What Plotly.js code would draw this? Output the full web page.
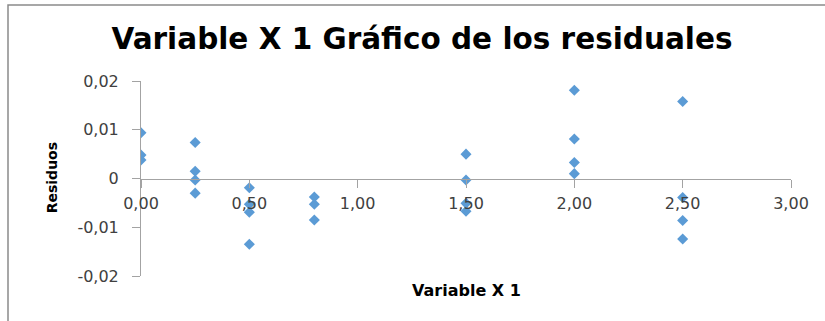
<!DOCTYPE html>
<html>
<head>
<meta charset="utf-8">
<script src="https://cdn.plot.ly/plotly-3.0.1.min.js"></script>
<style>
  html, body { margin: 0; padding: 0; background: #ffffff; }
  #chart { width: 825px; height: 321px; }
</style>
</head>
<body>
<div id="chart"></div>
<script>
// Residuals of the regression against Variable X 1
const variableX1 = [
  0, 0, 0,
  0.25, 0.25, 0.25, 0.25,
  0.5, 0.5, 0.5, 0.5,
  0.8, 0.8, 0.8,
  1.5, 1.5, 1.5, 1.5,
  2.0, 2.0, 2.0, 2.0,
  2.5, 2.5, 2.5, 2.5
];
const residuos = [
  0.0094, 0.0048, 0.0038,
  0.0074, 0.0015, -0.0003, -0.0030,
  -0.0019, -0.0053, -0.0069, -0.0135,
  -0.0038, -0.0053, -0.0085,
  0.0050, -0.0003, -0.0051, -0.0067,
  0.0181, 0.0081, 0.0033, 0.0010,
  0.0158, -0.0039, -0.0086, -0.0124
];

const xTickVals = [0, 0.5, 1, 1.5, 2, 2.5, 3];
const xTickText = ['0,00', '0,50', '1,00', '1,50', '2,00', '2,50', '3,00'];
const yTickVals = [-0.02, -0.01, 0, 0.01, 0.02];
const yTickText = ['-0,02', '-0,01', '0', '0,01', '0,02'];

const W = 825, H = 321;
const M = { l: 141, r: 34, t: 81, b: 45 };
const plotW = W - M.l - M.r, plotH = H - M.t - M.b;
// pixel -> paper helpers for the outer frame
const px = v => (v - M.l) / plotW;
const py = v => (H - M.b - v) / plotH;

const axisGrey = '#a3a3a3';
const tickFont = { family: 'DejaVu Sans', size: 16, color: '#404040' };

const trace = {
  type: 'scatter',
  mode: 'markers',
  x: variableX1,
  y: residuos,
  marker: { symbol: 'diamond', size: 8.5, color: '#5B9BD5', line: { width: 0 } },
  hoverinfo: 'x+y'
};

const layout = {
  width: W,
  height: H,
  margin: M,
  paper_bgcolor: '#ffffff',
  plot_bgcolor: '#ffffff',
  showlegend: false,
  title: {
    text: 'Variable X 1 Gráfico de los residuales',
    font: { family: 'DejaVu Sans', size: 29.5, color: '#000000', weight: 'bold' },
    xref: 'container', yref: 'container',
    x: 422 / W, xanchor: 'center',
    y: 1 - 39 / H, yanchor: 'middle'
  },
  xaxis: {
    range: [0, 3],
    tickvals: xTickVals,
    ticktext: xTickText,
    tickfont: tickFont,
    ticks: 'outside',
    ticklen: 8,
    tickcolor: axisGrey,
    showline: true,
    linecolor: axisGrey,
    linewidth: 1,
    showgrid: false,
    zeroline: false,
    anchor: 'free',
    position: 0.5,
    ticklabelstandoff: 2,
    fixedrange: true
  },
  yaxis: {
    range: [-0.02, 0.02],
    tickvals: yTickVals,
    ticktext: yTickText,
    tickfont: tickFont,
    ticks: 'outside',
    ticklen: 8,
    tickcolor: axisGrey,
    showline: true,
    linecolor: axisGrey,
    linewidth: 1,
    showgrid: false,
    zeroline: false,
    ticklabelstandoff: 10,
    fixedrange: true
  },
  annotations: [
    {
      text: 'Variable X 1',
      xref: 'paper', yref: 'paper',
      x: px(466), y: py(290.5),
      xanchor: 'center', yanchor: 'middle',
      showarrow: false,
      font: { family: 'DejaVu Sans', size: 16, color: '#000000', weight: 'bold' }
    },
    {
      text: 'Residuos',
      xref: 'paper', yref: 'paper',
      x: px(52), y: py(178.3),
      xanchor: 'center', yanchor: 'middle',
      textangle: -90,
      showarrow: false,
      font: { family: 'DejaVu Sans', size: 14, color: '#000000', weight: 'bold' }
    }
  ],
  shapes: [
    {
      type: 'rect',
      xref: 'paper', yref: 'paper',
      x0: px(8), x1: px(840),
      y0: py(340), y1: py(5),
      line: { color: '#8a8a8a', width: 1.5 },
      fillcolor: 'rgba(0,0,0,0)',
      layer: 'below'
    }
  ]
};

Plotly.newPlot('chart', [trace], layout, { displayModeBar: false, staticPlot: true });
</script>
</body>
</html>
